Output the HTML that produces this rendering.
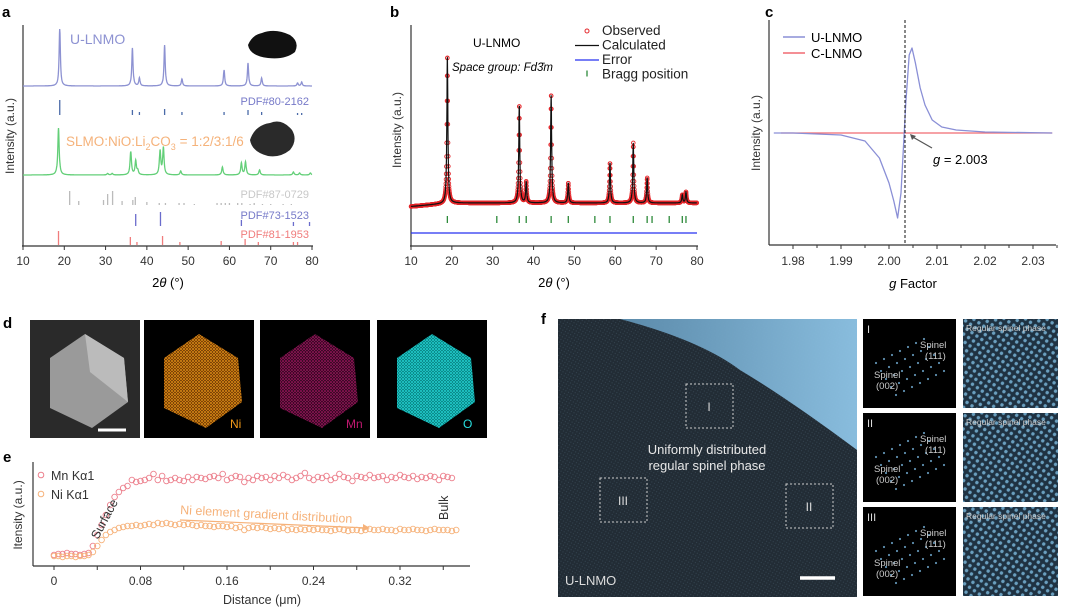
<!DOCTYPE html>
<html><head><meta charset="utf-8"><style>
body{margin:0;background:#fff;}
svg{display:block;font-family:"Liberation Sans",sans-serif;}
</style></head><body>
<svg id="fig" width="1080" height="613" viewBox="0 0 1080 613" xmlns="http://www.w3.org/2000/svg">
<defs>
<pattern id="dotNi" width="3" height="3" patternUnits="userSpaceOnUse"><rect width="3" height="3" fill="#7a4306"/><circle cx="1" cy="1" r="0.9" fill="#f29a1a"/><circle cx="2.5" cy="2.5" r="0.6" fill="#d9800e"/></pattern>
<pattern id="dotMn" width="3" height="3" patternUnits="userSpaceOnUse"><rect width="3" height="3" fill="#3a0a25"/><circle cx="1" cy="1" r="0.8" fill="#c01870"/><circle cx="2.5" cy="2.5" r="0.6" fill="#8e1055"/></pattern>
<pattern id="dotO" width="3" height="3" patternUnits="userSpaceOnUse"><rect width="3" height="3" fill="#0a8a8a"/><circle cx="1" cy="1" r="0.9" fill="#28e0e0"/><circle cx="2.5" cy="2.5" r="0.6" fill="#20c8c8"/></pattern>
<pattern id="lat" width="3" height="3" patternUnits="userSpaceOnUse" patternTransform="rotate(30)"><rect width="3" height="3" fill="#222c35"/><circle cx="1.5" cy="1.5" r="0.6" fill="#34434f"/></pattern>
<pattern id="lat2" width="6" height="6" patternUnits="userSpaceOnUse" patternTransform="rotate(35)"><rect width="6" height="6" fill="#1f3242"/><circle cx="3" cy="3" r="1.7" fill="#6a9fbf"/></pattern>
<linearGradient id="sky" x1="0" y1="0" x2="1" y2="0"><stop offset="0" stop-color="#5e8fb0"/><stop offset="1" stop-color="#8ec4e6"/></linearGradient>
</defs>
<g id="pa"></g>
<g id="pb"></g>
<g id="pc"></g>
<g id="pd"></g>
<g id="pe"></g>
<g id="pf"></g>
</svg>
<script>
// ---------- DATA ----------
const uPeaks=[18.9,36.5,38.2,44.3,48.5,58.7,64.5,67.8,76.5,77.5];
const uHeights=[57,38,8,41,7,16,23,8,3,4];
const gPeaks=[18.6,30.5,31.6,36.1,37.3,37.8,43.2,44.0,48.2,58.3,62.9,63.9,67.3,75.5,77.0,79.6];
const gHeights=[47,1.5,1.5,23,14,4,24,27,4,8,12,13,5,3,2,2];
const pdf80=[18.9,36.5,38.2,44.3,48.5,58.7,64.5,67.8,76.5,77.5];
const pdf80h=[15,5,3,6,3,3,5,3,2,2];
const pdf87=[21.3,23.5,29.5,30.5,31.7,34,36.6,37.2,40,43,44.5,47.8,49,51.5,57,58,59,60,62,63,65,66,68,70,73,75];
const pdf87h=[14,4,5,11,14,4,5,8,3,2,2,2,2,1,2,2,2,2,2,2,1,2,1,1,1,1];
const pdf73=[37.3,43.3,62.9,75.5,79.4];
const pdf73h=[12,14,6,4,4];
const pdf81=[18.6,36.0,37.6,43.8,48.0,58.0,63.8,67.0,75.5,76.5];
const pdf81h=[14,8,3,9,3,4,6,3,3,3];
const bPeaks=[18.9,36.5,38.2,44.3,48.5,58.7,64.4,67.8,76.4,77.3];
const bHeights=[148,98,21,109,20,40,60,25,8,11];
const bragg=[18.9,31,36.5,38.2,44.3,48.5,55,58.7,64.4,67.8,69,73.2,76.4,77.3];
const xTicks=[10,20,30,40,50,60,70,80];
const gAxis=[1.976,1.98,1.99,1.995,1.998,2.0,2.001,2.0018,2.0025,2.003,2.0035,2.0042,2.0048,2.0055,2.0065,2.0075,2.009,2.011,2.014,2.02,2.034];
const uEpr=[0,0,-0.02,-0.08,-0.25,-0.5,-0.68,-0.85,-0.6,-0.15,0.3,0.78,0.85,0.7,0.45,0.28,0.13,0.06,0.03,0.01,0];
const gTicks=[1.98,1.99,2.00,2.01,2.02,2.03];
const mnK=[0.05,0.06,0.06,0.07,0.06,0.06,0.05,0.06,0.07,0.14,0.25,0.35,0.45,0.55,0.63,0.68,0.72,0.74,0.8,0.78,0.79,0.8,0.82,0.86,0.8,0.84,0.79,0.8,0.82,0.8,0.79,0.83,0.8,0.83,0.82,0.81,0.83,0.84,0.82,0.86,0.8,0.82,0.84,0.83,0.78,0.82,0.8,0.84,0.82,0.83,0.8,0.84,0.82,0.85,0.83,0.8,0.82,0.84,0.87,0.82,0.8,0.83,0.82,0.84,0.8,0.82,0.86,0.83,0.82,0.79,0.84,0.83,0.82,0.85,0.82,0.83,0.84,0.8,0.83,0.82,0.85,0.83,0.82,0.84,0.81,0.83,0.82,0.84,0.83,0.8,0.84,0.83,0.82];
const niK=[0.04,0.04,0.03,0.04,0.04,0.03,0.04,0.04,0.05,0.08,0.14,0.2,0.25,0.28,0.3,0.32,0.33,0.34,0.34,0.35,0.34,0.35,0.36,0.35,0.37,0.36,0.37,0.36,0.35,0.36,0.35,0.36,0.35,0.34,0.35,0.34,0.34,0.33,0.34,0.34,0.33,0.34,0.32,0.33,0.3,0.32,0.33,0.32,0.33,0.32,0.31,0.32,0.31,0.32,0.3,0.31,0.3,0.31,0.3,0.31,0.3,0.31,0.3,0.3,0.29,0.3,0.31,0.3,0.29,0.3,0.3,0.29,0.3,0.31,0.3,0.3,0.31,0.3,0.3,0.29,0.31,0.3,0.3,0.31,0.3,0.3,0.29,0.3,0.31,0.3,0.3,0.3,0.29,0.3];
const distTicks=[0,0.08,0.16,0.24,0.32];

// ---------- helpers ----------
const NS="http://www.w3.org/2000/svg";
function mk(parent,tag,attrs,text){const e=document.createElementNS(NS,tag);for(const k in attrs)e.setAttribute(k,attrs[k]);if(text!==undefined)e.textContent=text;parent.appendChild(e);return e;}
function prof(x,peaks,hts,w){let s=0;for(let i=0;i<peaks.length;i++){const d=(x-peaks[i])/w;s+=hts[i]/(1+d*d);}return s;}
function sticks(g,ax,arr,h,y0,color,name){arr.forEach((p,i)=>{const l=mk(g,'line',{x1:ax(p),x2:ax(p),y1:y0,y2:y0-h[i],stroke:color,'stroke-width':1.3});

});}
function xAxis(g,ax,y,ticks,fmt,labY){mk(g,'line',{x1:ax(ticks[0])-1,x2:ax(ticks[ticks.length-1])+1,y1:y,y2:y,stroke:'#333','stroke-width':1.2});
ticks.forEach(t=>{mk(g,'line',{x1:ax(t),x2:ax(t),y1:y,y2:y+4,stroke:'#333'});const tl=mk(g,'text',{x:ax(t),y:labY,'font-size':12,'text-anchor':'middle',fill:'#333'},fmt(t));

});}

// ---------- Panel a ----------
(function(){const g=document.getElementById('pa');const ax=v=>23+(v-10)*(289/70);
mk(g,'text',{x:2,y:17,'font-size':15,'font-weight':'bold'},'a');
mk(g,'line',{x1:23,x2:23,y1:25,y2:246,stroke:'#333','stroke-width':1.2});
let d='',d2='';for(let x=10;x<=80;x+=0.05){d+=(d?'L':'M')+ax(x).toFixed(1)+','+(86-prof(x,uPeaks,uHeights,0.18)).toFixed(1);d2+=(d2?'L':'M')+ax(x).toFixed(1)+','+(175-prof(x,gPeaks,gHeights,0.2)).toFixed(1);}
const p1=mk(g,'path',{d:d,fill:'none',stroke:'#8d92d2','stroke-width':1.3});
const p2=mk(g,'path',{d:d2,fill:'none',stroke:'#63cf78','stroke-width':1.3});
sticks(g,ax,pdf80,pdf80h,115,'#4a6aa8','pdf80');sticks(g,ax,pdf87,pdf87h,205,'#bbb','pdf87');sticks(g,ax,pdf73,pdf73h,226,'#6a6ccc','pdf73');sticks(g,ax,pdf81,pdf81h,245,'#f07c7c','pdf81');
mk(g,'text',{x:70,y:44,'font-size':14,fill:'#8d92d2'},'U-LNMO');
const t=mk(g,'text',{x:66,y:146,'font-size':13.5,fill:'#f5b27a'});t.innerHTML='SLMO:NiO:Li<tspan font-size="9" dy="4">2</tspan><tspan dy="-4">CO</tspan><tspan font-size="9" dy="4">3</tspan><tspan dy="-4"> = 1:2/3:1/6</tspan>';
mk(g,'text',{x:309,y:105,'font-size':11,fill:'#7679c8','text-anchor':'end'},'PDF#80-2162');
mk(g,'text',{x:309,y:198,'font-size':11,fill:'#c8c8c8','text-anchor':'end'},'PDF#87-0729');
mk(g,'text',{x:309,y:219,'font-size':11,fill:'#7679c8','text-anchor':'end'},'PDF#73-1523');
mk(g,'text',{x:309,y:238,'font-size':11,fill:'#f07c7c','text-anchor':'end'},'PDF#81-1953');
mk(g,'path',{d:'M248,45 Q252,35 262,33 Q275,28 290,35 Q300,42 295,52 Q285,60 268,58 Q250,56 248,45Z',fill:'#111'});
mk(g,'path',{d:'M250,140 Q255,125 270,123 Q282,118 292,130 Q298,140 290,150 Q280,158 268,156 Q252,152 250,140Z',fill:'#2a2a2a'});
xAxis(g,ax,246,xTicks,t=>t,265);
const xl=mk(g,'text',{x:168,y:287,'font-size':13,'text-anchor':'middle'});xl.innerHTML='2<tspan font-style="italic">θ</tspan> (°)';
mk(g,'text',{x:14,y:136,'font-size':12,'text-anchor':'middle',fill:'#333',transform:'rotate(-90 14 136)'},'Intensity (a.u.)');})();

// ---------- Panel b ----------
(function(){const g=document.getElementById('pb');const ax=v=>411+(v-10)*(286/70);
mk(g,'text',{x:390,y:17,'font-size':15,'font-weight':'bold'},'b');
mk(g,'line',{x1:411,x2:411,y1:25,y2:246,stroke:'#333','stroke-width':1.2});
const yb=x=>203+ (x<20? (20-x)*0.35:0);
for(let x=10;x<=80;x+=0.04){mk(g,'circle',{cx:ax(x).toFixed(1),cy:(yb(x)-prof(x,bPeaks,bHeights,0.15)).toFixed(1),r:1.8,fill:'none',stroke:'#e4262a','stroke-width':0.9});}
let d='';for(let x=10;x<=80;x+=0.04){d+=(d?'L':'M')+ax(x).toFixed(1)+','+(yb(x)-prof(x,bPeaks,bHeights,0.15)).toFixed(1);}
const pc=mk(g,'path',{d:d,fill:'none',stroke:'#111','stroke-width':1.2});
const pe=mk(g,'line',{x1:ax(10),x2:ax(80),y1:233,y2:233,stroke:'#2630f0','stroke-width':1.3});
bragg.forEach(b=>{const l=mk(g,'line',{x1:ax(b),x2:ax(b),y1:216,y2:223,stroke:'#2d8a3a','stroke-width':1.3});});
mk(g,'text',{x:473,y:47,'font-size':12},'U-LNMO');
mk(g,'text',{x:452,y:71,'font-size':11.5,'font-style':'italic'},'Space group: Fd3̄m');
const lg=[['Observed','c'],['Calculated','#111'],['Error','#2630f0'],['Bragg position','g']];
lg.forEach((e,i)=>{const y=35+i*14.5;if(e[1]=='c')mk(g,'circle',{cx:587,cy:y-4,r:2,fill:'none',stroke:'#e4262a'});else if(e[1]=='g')mk(g,'line',{x1:587,x2:587,y1:y-8,y2:y-2,stroke:'#2d8a3a','stroke-width':1.3});else mk(g,'line',{x1:575,x2:599,y1:y-4,y2:y-4,stroke:e[1],'stroke-width':1.3});
const tx=mk(g,'text',{x:602,y:y,'font-size':13.5,fill:'#222'},e[0]);});
xAxis(g,ax,246,xTicks,t=>t,265);
const xl=mk(g,'text',{x:554,y:287,'font-size':13,'text-anchor':'middle'});xl.innerHTML='2<tspan font-style="italic">θ</tspan> (°)';
mk(g,'text',{x:401,y:130,'font-size':12,'text-anchor':'middle',fill:'#333',transform:'rotate(-90 401 130)'},'Intensity (a.u.)');})();

// ---------- Panel c ----------
(function(){const g=document.getElementById('pc');const ax=v=>793+(v-1.98)*4800;const ay=v=>133-v*100;
mk(g,'text',{x:765,y:17,'font-size':15,'font-weight':'bold'},'c');
mk(g,'line',{x1:769,x2:769,y1:20,y2:245,stroke:'#333','stroke-width':1.2});
const pr=mk(g,'line',{x1:ax(1.9775),x2:ax(2.034),y1:ay(0),y2:ay(0),stroke:'#f06a72','stroke-width':1.3});
let d='';gAxis.forEach((x,i)=>{d+=(i?'L':'M')+ax(x).toFixed(1)+','+ay(uEpr[i]).toFixed(1);});
const pu=mk(g,'path',{d:d,fill:'none',stroke:'#8a8fd6','stroke-width':1.3,'stroke-linejoin':'round'});
mk(g,'line',{x1:905,x2:905,y1:20,y2:245,stroke:'#111','stroke-dasharray':'3,2'});
mk(g,'line',{x1:932,x2:911,y1:148,y2:136,stroke:'#555','stroke-width':1.2});mk(g,'path',{d:'M910,134 L916,136 L912,140Z',fill:'#555'});
const gl=mk(g,'text',{x:933,y:164,'font-size':13});gl.innerHTML='<tspan font-style="italic">g</tspan> = 2.003';
mk(g,'line',{x1:783,x2:805,y1:37,y2:37,stroke:'#8a8fd6','stroke-width':1.5});mk(g,'text',{x:811,y:42,'font-size':13},'U-LNMO');
mk(g,'line',{x1:783,x2:805,y1:53,y2:53,stroke:'#f06a72','stroke-width':1.5});mk(g,'text',{x:811,y:58,'font-size':13},'C-LNMO');
mk(g,'line',{x1:769,x2:1056,y1:245,y2:245,stroke:'#333','stroke-width':1.2});
gTicks.forEach(t=>{mk(g,'line',{x1:ax(t),x2:ax(t),y1:245,y2:249,stroke:'#333'});mk(g,'line',{x1:ax(t+0.005),x2:ax(t+0.005),y1:245,y2:248,stroke:'#333'});const tl=mk(g,'text',{x:ax(t),y:265,'font-size':12,'text-anchor':'middle',fill:'#333'},t.toFixed(2));});
const xl=mk(g,'text',{x:913,y:288,'font-size':13,'text-anchor':'middle'});xl.innerHTML='<tspan font-style="italic">g</tspan> Factor';
mk(g,'text',{x:760,y:133,'font-size':12,'text-anchor':'middle',fill:'#333',transform:'rotate(-90 760 133)'},'Intensity (a.u.)');})();

// ---------- Panel d ----------
(function(){const g=document.getElementById('pd');mk(g,'text',{x:3,y:328,'font-size':15,'font-weight':'bold'},'d');
const boxes=[[30,'#2a2a2a'],[144,'#000'],[260,'#000'],[377,'#000']];
const fills=[null,'url(#dotNi)','url(#dotMn)','url(#dotO)'];
const labs=['','Ni','Mn','O'];const cols=['','#f29a1a','#c01870','#28e0e0'];
boxes.forEach((b,i)=>{const x=b[0];mk(g,'rect',{x:x,y:320,width:110,height:118,fill:b[1]});
const hx=`M${x+20},${320+38} L${x+55},${320+14} L${x+94},${320+38} L${x+98},${320+82} L${x+62},${320+108} L${x+20},${320+88}Z`;
if(i==0){mk(g,'path',{d:hx,fill:'#9a9a9a'});mk(g,'path',{d:`M${x+55},${334} L${x+94},358 L${x+98},402 L${x+60},372Z`,fill:'#bbb'});mk(g,'line',{x1:x+68,x2:x+96,y1:430,y2:430,stroke:'#fff','stroke-width':3});}
else{mk(g,'path',{d:hx,fill:fills[i]});mk(g,'text',{x:x+86,y:428,'font-size':12,fill:cols[i]},labs[i]);}});})();

// ---------- Panel e ----------
(function(){const g=document.getElementById('pe');const ax=v=>54+v*(346/0.32);const ay=v=>560-v*100;
mk(g,'text',{x:3,y:462,'font-size':15,'font-weight':'bold'},'e');
mk(g,'line',{x1:33,x2:33,y1:462,y2:566,stroke:'#333','stroke-width':1.2});
mk(g,'line',{x1:33,x2:470,y1:566,y2:566,stroke:'#333','stroke-width':1.2});
for(let t=0;t<=0.36;t+=0.04){mk(g,'line',{x1:ax(t),x2:ax(t),y1:566,y2:570,stroke:'#333'});}
distTicks.forEach(t=>{const tl=mk(g,'text',{x:ax(t),y:585,'font-size':12,'text-anchor':'middle',fill:'#333'},t===0?'0':t.toFixed(2));});
mnK.forEach((v,i)=>{const c=mk(g,'circle',{cx:ax(i*0.004).toFixed(1),cy:ay(v).toFixed(1),r:2.8,fill:'none',stroke:'#ec7f8c','stroke-width':0.9});});
niK.forEach((v,i)=>{const c=mk(g,'circle',{cx:ax(i*0.004).toFixed(1),cy:ay(v).toFixed(1),r:2.8,fill:'none',stroke:'#f6b27a','stroke-width':0.9});});
mk(g,'circle',{cx:41,cy:475,r:2.8,fill:'none',stroke:'#ec7f8c'});mk(g,'text',{x:51,y:480,'font-size':12.5,fill:'#333'},'Mn Kα1');
mk(g,'circle',{cx:41,cy:494,r:2.8,fill:'none',stroke:'#f6b27a'});mk(g,'text',{x:51,y:499,'font-size':12.5,fill:'#333'},'Ni Kα1');
mk(g,'text',{x:180,y:514,'font-size':12.5,fill:'#f6b27a',transform:'rotate(3 180 514)'},'Ni element gradient distribution');
mk(g,'line',{x1:180,x2:368,y1:520,y2:528,stroke:'#f6b27a','stroke-width':1.2});mk(g,'path',{d:'M370,528 L363,524 L363,531Z',fill:'#f6b27a'});
mk(g,'text',{x:98,y:540,'font-size':12.5,fill:'#333',transform:'rotate(-62 98 540)'},'Surface');
mk(g,'text',{x:448,y:520,'font-size':12.5,fill:'#333',transform:'rotate(-90 448 520)'},'Bulk');
mk(g,'text',{x:262,y:604,'font-size':12.5,'text-anchor':'middle',fill:'#333'},'Distance (μm)');
mk(g,'text',{x:22,y:515,'font-size':12,'text-anchor':'middle',fill:'#333',transform:'rotate(-90 22 515)'},'Itensity (a.u.)');})();

// ---------- Panel f ----------
(function(){const g=document.getElementById('pf');mk(g,'text',{x:541,y:324,'font-size':15,'font-weight':'bold'},'f');
mk(g,'rect',{x:558,y:319,width:299,height:278,fill:'url(#lat)'});
mk(g,'path',{d:'M620,319 Q700,340 740,370 Q790,400 857,450 L857,319Z',fill:'url(#sky)',opacity:0.95});
[[686,384,'I'],[786,484,'II'],[600,478,'III']].forEach(b=>{mk(g,'rect',{x:b[0],y:b[1],width:47,height:44,fill:'none',stroke:'#ccc','stroke-dasharray':'2,2'});mk(g,'text',{x:b[0]+23,y:b[1]+27,'font-size':12,fill:'#ddd','text-anchor':'middle'},b[2]);});
mk(g,'text',{x:707,y:454,'font-size':13,fill:'#e8e8e8','text-anchor':'middle'},'Uniformly distributed');
mk(g,'text',{x:707,y:470,'font-size':13,fill:'#e8e8e8','text-anchor':'middle'},'regular spinel phase');
mk(g,'text',{x:565,y:585,'font-size':13,fill:'#ddd'},'U-LNMO');
mk(g,'line',{x1:800,x2:835,y1:578,y2:578,stroke:'#fff','stroke-width':3.5});
[['I',319],['II',413],['III',507]].forEach(r=>{const y=r[1];mk(g,'rect',{x:863,y:y,width:93,height:89,fill:'#000'});
for(let i=-3;i<=3;i++)for(let j=-2;j<=2;j++){mk(g,'circle',{cx:910+i*8+j*5,cy:y+48-i*4+j*8,r:1.1,fill:'#5f8fb0'});}
mk(g,'text',{x:867,y:y+14,'font-size':11,fill:'#ddd'},r[0]);
mk(g,'text',{x:920,y:y+29,'font-size':9.5,fill:'#ccc'},'Spinel');mk(g,'text',{x:925,y:y+40,'font-size':9.5,fill:'#ccc'},'(111)');
mk(g,'text',{x:874,y:y+59,'font-size':9.5,fill:'#ccc'},'Spinel');mk(g,'text',{x:876,y:y+70,'font-size':9.5,fill:'#ccc'},'(002)');
mk(g,'rect',{x:963,y:y,width:95,height:89,fill:'url(#lat2)'});
mk(g,'text',{x:966,y:y+12,'font-size':8.5,fill:'#ccc'},'Regular spinel phase');});})();
</script>
</body></html>
